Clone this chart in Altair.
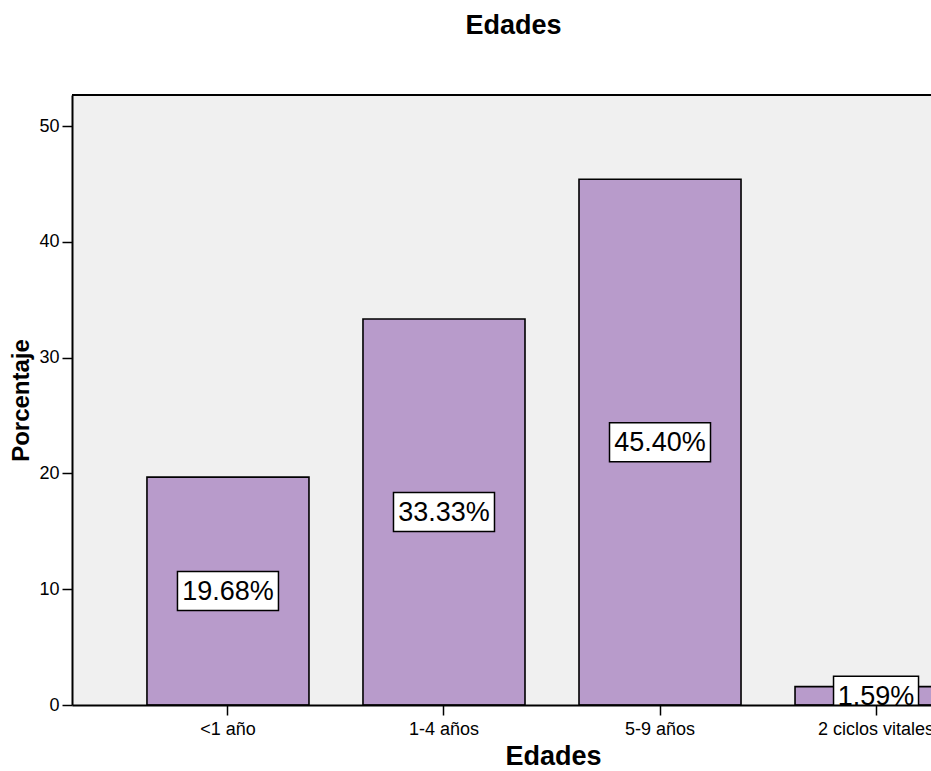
import altair as alt
import pandas as pd

# Age groups and their share of cases (%)
categories = ["<1 año", "1-4 años", "5-9 años", "2 ciclos vitales"]
percentages = [19.68, 33.33, 45.40, 1.59]
y_ticks = [0, 10, 20, 30, 40, 50]

df = pd.DataFrame({"edad": categories, "porcentaje": percentages})

FONT = "Liberation Sans"
W, H = 859, 610
BAR_FILL = "#B89BCB"

x_scale = alt.Scale(range=[0, 960], paddingInner=0.25, paddingOuter=0.347)
y_scale = alt.Scale(domain=[0, 52.68], nice=False, zero=True)

x_axis = alt.Axis(
    title="Edades", labelAngle=0, labelFont=FONT, labelFontSize=18, labelColor="black",
    labelPadding=5, tickSize=10, tickWidth=1.5, tickColor="black",
    domainColor="black", domainWidth=2, titleFont=FONT, titleFontSize=27,
    titleFontWeight="bold", titleColor="black", titleX=481, titleY=59,
    titleAlign="center", titleBaseline="alphabetic", zindex=1,
)
y_axis = alt.Axis(
    title="Porcentaje", values=y_ticks, grid=False, labelFont=FONT, labelFontSize=18,
    labelColor="black", labelPadding=3, tickSize=10, tickWidth=1.5, tickColor="black",
    domainColor="black", domainWidth=2, titleFont=FONT, titleFontSize=24,
    titleFontWeight="bold", titleColor="black", titleAngle=270, titleX=-44, titleY=305,
    titleAlign="center", titleBaseline="alphabetic", zindex=1,
)

x_enc = alt.X("edad:N", sort=categories, scale=x_scale, axis=x_axis)

base = alt.Chart(df)

bars = base.mark_bar(fill=BAR_FILL, stroke="black", strokeWidth=1.6, clip=True).encode(
    x=x_enc,
    y=alt.Y("porcentaje:Q", scale=y_scale, axis=y_axis),
)

# value labels sit at half the bar height, inside a white framed box
labelled = base.transform_calculate(
    mid="datum.porcentaje / 2",
    etiqueta="format(datum.porcentaje, '.2f') + '%'",
)

def label_box(n_chars, box_width):
    return labelled.transform_filter(f"length(datum.etiqueta) == {n_chars}").mark_bar(
        width=box_width, fill="white", stroke="black", strokeWidth=1.5,
        yOffset=-19.5, y2Offset=19.5, clip=True,
    ).encode(
        x=alt.X("edad:N", sort=categories, scale=x_scale, axis=x_axis),
        y=alt.Y("mid:Q", scale=y_scale, axis=y_axis),
        y2="mid:Q",
    )

texts = labelled.mark_text(
    font=FONT, fontSize=27, color="black", baseline="middle", clip=True, dy=1,
).encode(
    x=alt.X("edad:N", sort=categories, scale=x_scale, axis=x_axis),
    y=alt.Y("mid:Q", scale=y_scale, axis=y_axis),
    text="etiqueta:N",
)

# top edge of the plotting frame
frame_top = alt.Chart(pd.DataFrame({"k": [0]})).mark_rule(
    color="black", strokeWidth=2
).encode(x=alt.value(0), x2=alt.value(W), y=alt.value(0))

chart = alt.layer(bars, label_box(6, 101), label_box(5, 85), texts, frame_top).properties(
    width=W,
    height=H,
    title=alt.TitleParams(
        "Edades", font=FONT, fontSize=27, fontWeight="bold", color="black",
        anchor="middle", frame="group", baseline="alphabetic", offset=33, dx=12,
    ),
    autosize=alt.AutoSizeParams(type="none"),
    padding={"left": 72, "top": 95, "right": 0, "bottom": 66},
    background="white",
).configure_view(fill="#F0F0F0", stroke="transparent")

chart.save("out.html", embed_options={"renderer": "svg", "actions": False})
